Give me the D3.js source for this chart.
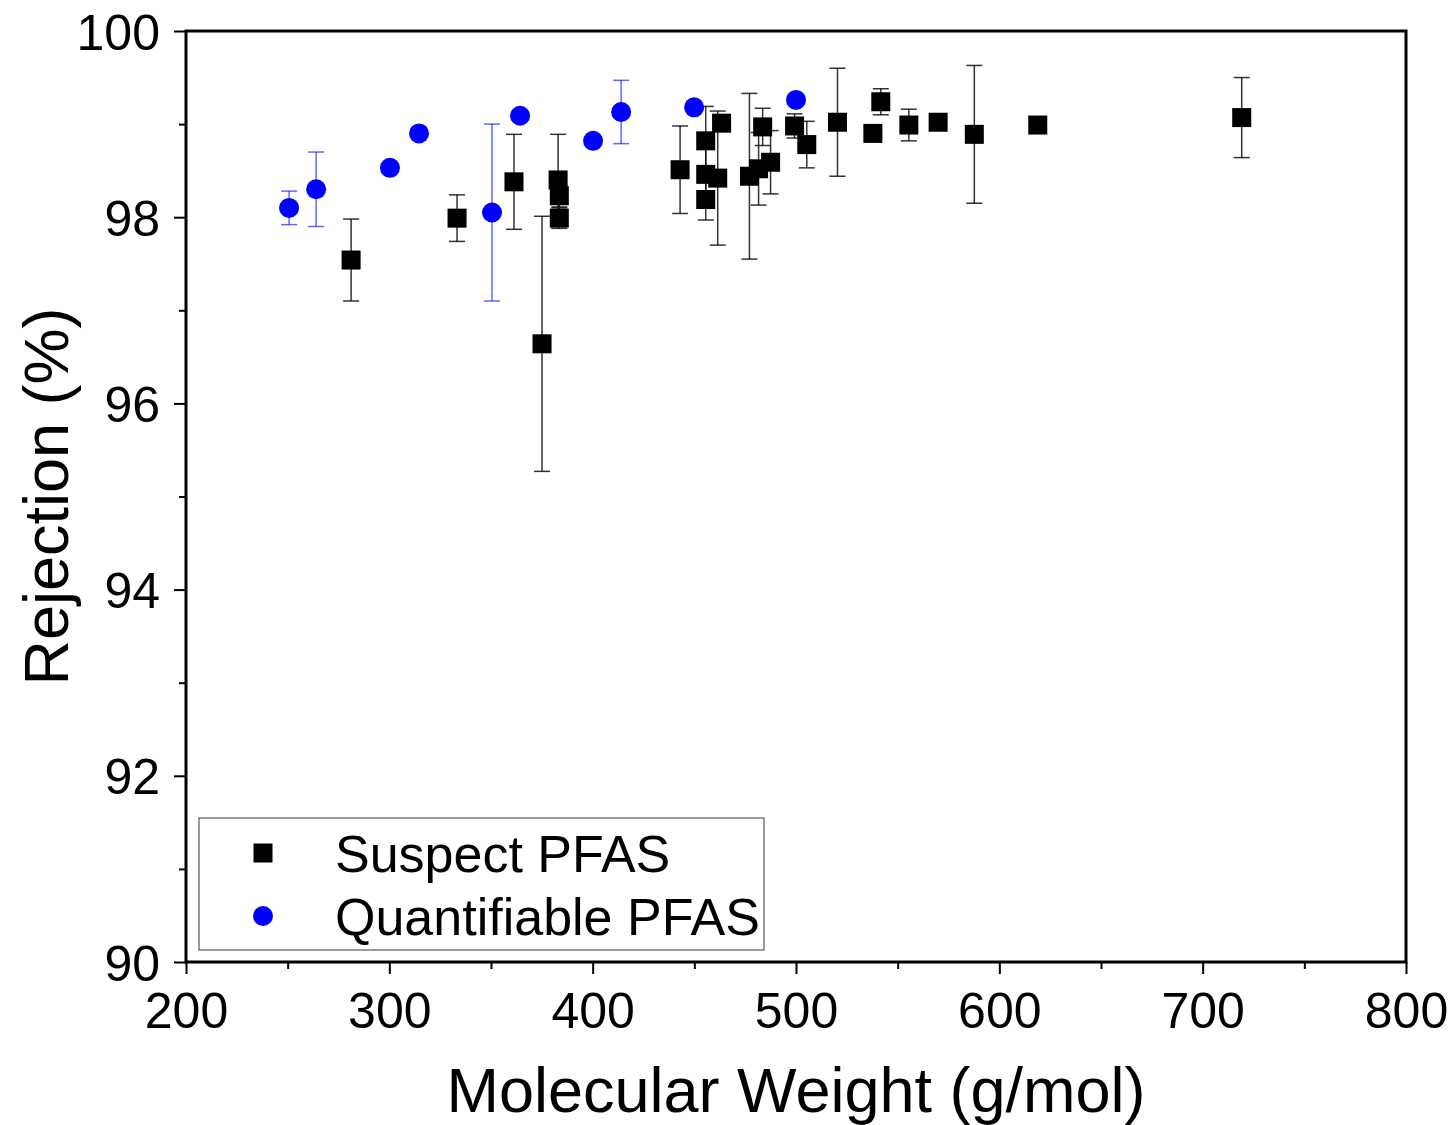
<!DOCTYPE html>
<html>
<head>
<meta charset="utf-8">
<script src="https://cdn.jsdelivr.net/npm/d3@7"></script>
<style>
  body { margin: 0; background: #fff; }
  svg text { font-family: "Liberation Sans", Arial, sans-serif; fill: #000; }
</style>
</head>
<body>
<div id="chart"></div>
<script>
// Suspect PFAS (black squares)
const suspectMW  = [281.2, 333.3, 361.3, 375.1, 383.0, 383.6, 383.6, 443.0, 455.6, 455.6, 455.6, 461.5, 463.4, 477.1, 481.6, 483.6, 487.5, 499.3, 505.3, 520.4, 537.8, 541.7, 555.5, 569.9, 587.7, 618.9, 719.2];
const suspectRej = [97.54, 97.99, 98.38, 96.64, 98.40, 98.23, 97.99, 98.51, 98.82, 98.46, 98.19, 98.42, 99.01, 98.44, 98.52, 98.97, 98.59, 98.98, 98.78, 99.02, 98.90, 99.24, 98.99, 99.02, 98.89, 98.99, 99.07];
const suspectErr = [0.44, 0.25, 0.51, 1.37, 0.49, 0.12, 0.11, 0.47, 0.37, 0.30, 0.22, 0.72, 0.00, 0.89, 0.39, 0.20, 0.34, 0.13, 0.25, 0.58, 0.00, 0.14, 0.17, 0.00, 0.74, 0.00, 0.43];

// Quantifiable PFAS (blue circles)
const quantMW  = [250.7, 264.0, 300.3, 314.6, 350.5, 364.3, 400.2, 414.0, 449.9, 500.0];
const quantRej = [98.10, 98.30, 98.53, 98.90, 98.05, 99.09, 98.82, 99.13, 99.18, 99.26];
const quantErr = [0.18, 0.40, 0.00, 0.00, 0.95, 0.00, 0.02, 0.34, 0.00, 0.00];

const xTicks = [200, 300, 400, 500, 600, 700, 800];
const yTicks = [90, 92, 94, 96, 98, 100];
const seriesNames = ["Suspect PFAS", "Quantifiable PFAS"];

const width = 1456, height = 1125;
const margin = { top: 31, right: 50, bottom: 163, left: 186 };
const iw = width - margin.left - margin.right,
      ih = height - margin.top - margin.bottom;

const svg = d3.select("#chart").append("svg")
    .attr("width", width)
    .attr("height", height);

const g = svg.append("g")
    .attr("transform", "translate(" + margin.left + "," + margin.top + ")");

const x = d3.scaleLinear().domain([200, 800]).range([0, iw]);
const y = d3.scaleLinear().domain([90, 100]).range([ih, 0]);

const suspect = suspectMW.map((d, i) => ({ mw: d, rej: suspectRej[i], err: suspectErr[i] }));
const quant = quantMW.map((d, i) => ({ mw: d, rej: quantRej[i], err: quantErr[i] }));

// minor ticks
g.append("g")
    .attr("transform", "translate(0," + ih + ")")
    .call(d3.axisBottom(x).tickValues(d3.range(250, 800, 100)).tickSize(7).tickFormat(""))
    .call(a => a.select(".domain").remove())
    .selectAll("line").attr("stroke-width", 2);
g.append("g")
    .call(d3.axisLeft(y).tickValues(d3.range(91, 100, 2)).tickSize(7).tickFormat(""))
    .call(a => a.select(".domain").remove())
    .selectAll("line").attr("stroke-width", 2);

// major ticks
const xAxis = g.append("g")
    .attr("transform", "translate(0," + ih + ")")
    .call(d3.axisBottom(x).tickValues(xTicks).tickSize(12).tickPadding(6));
xAxis.select(".domain").remove();
xAxis.selectAll("line").attr("stroke-width", 2);
xAxis.selectAll("text").attr("font-size", 50).attr("dy", "0.95em");

const yAxis = g.append("g")
    .call(d3.axisLeft(y).tickValues(yTicks).tickSize(12).tickPadding(14));
yAxis.select(".domain").remove();
yAxis.selectAll("line").attr("stroke-width", 2);
yAxis.selectAll("text").attr("font-size", 50).attr("dy", "0.36em");

// error bars
function errorBars(data, color, opacity) {
    const eb = g.append("g").attr("stroke", color).attr("stroke-opacity", opacity).attr("stroke-width", 1.5);
    data.filter(d => d.err > 0).forEach(d => {
        const cx = x(d.mw), y1 = y(d.rej + d.err), y2 = y(d.rej - d.err);
        eb.append("line").attr("x1", cx).attr("x2", cx).attr("y1", y1).attr("y2", y2);
        eb.append("line").attr("x1", cx - 8).attr("x2", cx + 8).attr("y1", y1).attr("y2", y1);
        eb.append("line").attr("x1", cx - 8).attr("x2", cx + 8).attr("y1", y2).attr("y2", y2);
    });
}
errorBars(suspect, "#000", 0.8);
errorBars(quant, "#0000ff", 0.6);

// markers
const sq = 19;
g.append("g").selectAll("rect")
    .data(suspect)
    .join("rect")
    .attr("x", d => x(d.mw) - sq / 2)
    .attr("y", d => y(d.rej) - sq / 2)
    .attr("width", sq)
    .attr("height", sq)
    .attr("fill", "#000");

g.append("g").selectAll("circle")
    .data(quant)
    .join("circle")
    .attr("cx", d => x(d.mw))
    .attr("cy", d => y(d.rej))
    .attr("r", 10)
    .attr("fill", "#0000ff");

// frame
g.append("rect")
    .attr("width", iw)
    .attr("height", ih)
    .attr("fill", "none")
    .attr("stroke", "#000")
    .attr("stroke-width", 3);

// legend
const leg = g.append("g").attr("transform", "translate(" + (199 - margin.left) + "," + (818 - margin.top) + ")");
leg.append("rect")
    .attr("width", 565)
    .attr("height", 132)
    .attr("fill", "#fff")
    .attr("stroke", "#555")
    .attr("stroke-width", 1.2);
leg.append("rect").attr("x", 64 - sq / 2).attr("y", 35 - sq / 2).attr("width", sq).attr("height", sq).attr("fill", "#000");
leg.append("circle").attr("cx", 64).attr("cy", 98).attr("r", 10).attr("fill", "#0000ff");
seriesNames.forEach((name, i) => {
    leg.append("text")
        .attr("x", 136)
        .attr("y", 35 + i * 63)
        .attr("dy", "0.36em")
        .attr("font-size", 52)
        .text(name);
});

// axis titles
svg.append("text")
    .attr("x", margin.left + iw / 2)
    .attr("y", 1112)
    .attr("text-anchor", "middle")
    .attr("font-size", 63)
    .text("Molecular Weight (g/mol)");

svg.append("text")
    .attr("transform", "translate(68," + (margin.top + ih / 2) + ") rotate(-90)")
    .attr("text-anchor", "middle")
    .attr("font-size", 63)
    .text("Rejection (%)");
</script>
</body>
</html>
